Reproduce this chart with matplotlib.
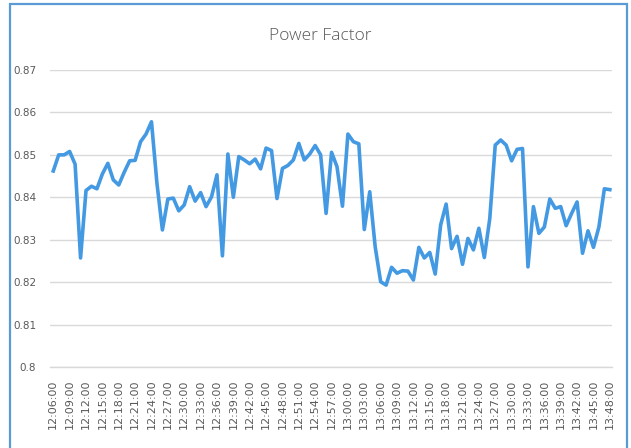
import pandas as pd
import matplotlib.pyplot as plt
from matplotlib.patches import Rectangle

# Power factor readings, one per minute from 12:06 to 13:48
times = pd.date_range('2020-01-01 12:06', periods=103, freq='min').strftime('%H:%M:%S').tolist()
power_factor = [
    0.8462, 0.8500, 0.8500, 0.8508, 0.8478, 0.8257, 0.8416, 0.8426, 0.8420, 0.8455,
    0.8480, 0.8441, 0.8429, 0.8459, 0.8486, 0.8487, 0.8531, 0.8549, 0.8578, 0.8433,
    0.8323, 0.8396, 0.8398, 0.8368, 0.8382, 0.8425, 0.8391, 0.8411, 0.8378, 0.8401,
    0.8453, 0.8262, 0.8502, 0.8400, 0.8496, 0.8488, 0.8479, 0.8490, 0.8467, 0.8516,
    0.8510, 0.8397, 0.8468, 0.8475, 0.8488, 0.8527, 0.8488, 0.8502, 0.8522, 0.8500,
    0.8362, 0.8506, 0.8472, 0.8379, 0.8549, 0.8531, 0.8526, 0.8324, 0.8413, 0.8283,
    0.8201, 0.8193, 0.8235, 0.8221, 0.8227, 0.8226, 0.8205, 0.8282, 0.8257, 0.8270,
    0.8219, 0.8335, 0.8384, 0.8279, 0.8308, 0.8242, 0.8303, 0.8276, 0.8327, 0.8258,
    0.8350, 0.8523, 0.8535, 0.8523, 0.8486, 0.8513, 0.8515, 0.8236, 0.8378, 0.8315,
    0.8330, 0.8396, 0.8374, 0.8378, 0.8333, 0.8362, 0.8389, 0.8268, 0.8321, 0.8282,
    0.8330, 0.8420, 0.8418,
]
y_ticks = [0.80, 0.81, 0.82, 0.83, 0.84, 0.85, 0.86, 0.87]
y_labels = ['0.8', '0.81', '0.82', '0.83', '0.84', '0.85', '0.86', '0.87']

grey = '#595959'

fig = plt.figure(figsize=(6.31, 4.48), dpi=100)
ax = fig.add_axes([50 / 631, 1 - 367 / 448, 562 / 631, 297 / 448])

x = list(range(len(times)))
ax.plot(x, power_factor, color='#4499E3', linewidth=2.6, solid_joinstyle='round', zorder=3)

ax.set_ylim(0.80, 0.87)
ax.set_xlim(-0.6, 102.4)
ax.set_yticks(y_ticks)
ax.set_yticklabels(y_labels)
ax.set_xticks(x[::3])
ax.set_xticklabels(times[::3], rotation=90, fontsize=8)
ax.tick_params(axis='both', length=0, labelcolor=grey)
ax.tick_params(axis='y', pad=10, labelsize=7.5)
ax.tick_params(axis='x', pad=9)

ax.grid(axis='y', color='#D9D9D9', linewidth=1.0)
ax.set_axisbelow(True)
for side in ['top', 'right', 'left']:
    ax.spines[side].set_visible(False)
ax.spines['bottom'].set_color('#D9D9D9')
ax.spines['bottom'].set_linewidth(1.0)

fig.text(320 / 631, 1 - 36 / 448, 'Power Factor', ha='center', va='center',
         fontsize=12.5, color=grey, family='Open Sans', fontweight='light')

# light blue frame around the chart
fig.patches.append(Rectangle((10 / 631, -0.02), 617 / 631, 1 - 4 / 448 + 0.02,
                             transform=fig.transFigure, fill=False,
                             edgecolor='#5B9BD5', linewidth=1.6))

fig.savefig('out.png', dpi=100)
